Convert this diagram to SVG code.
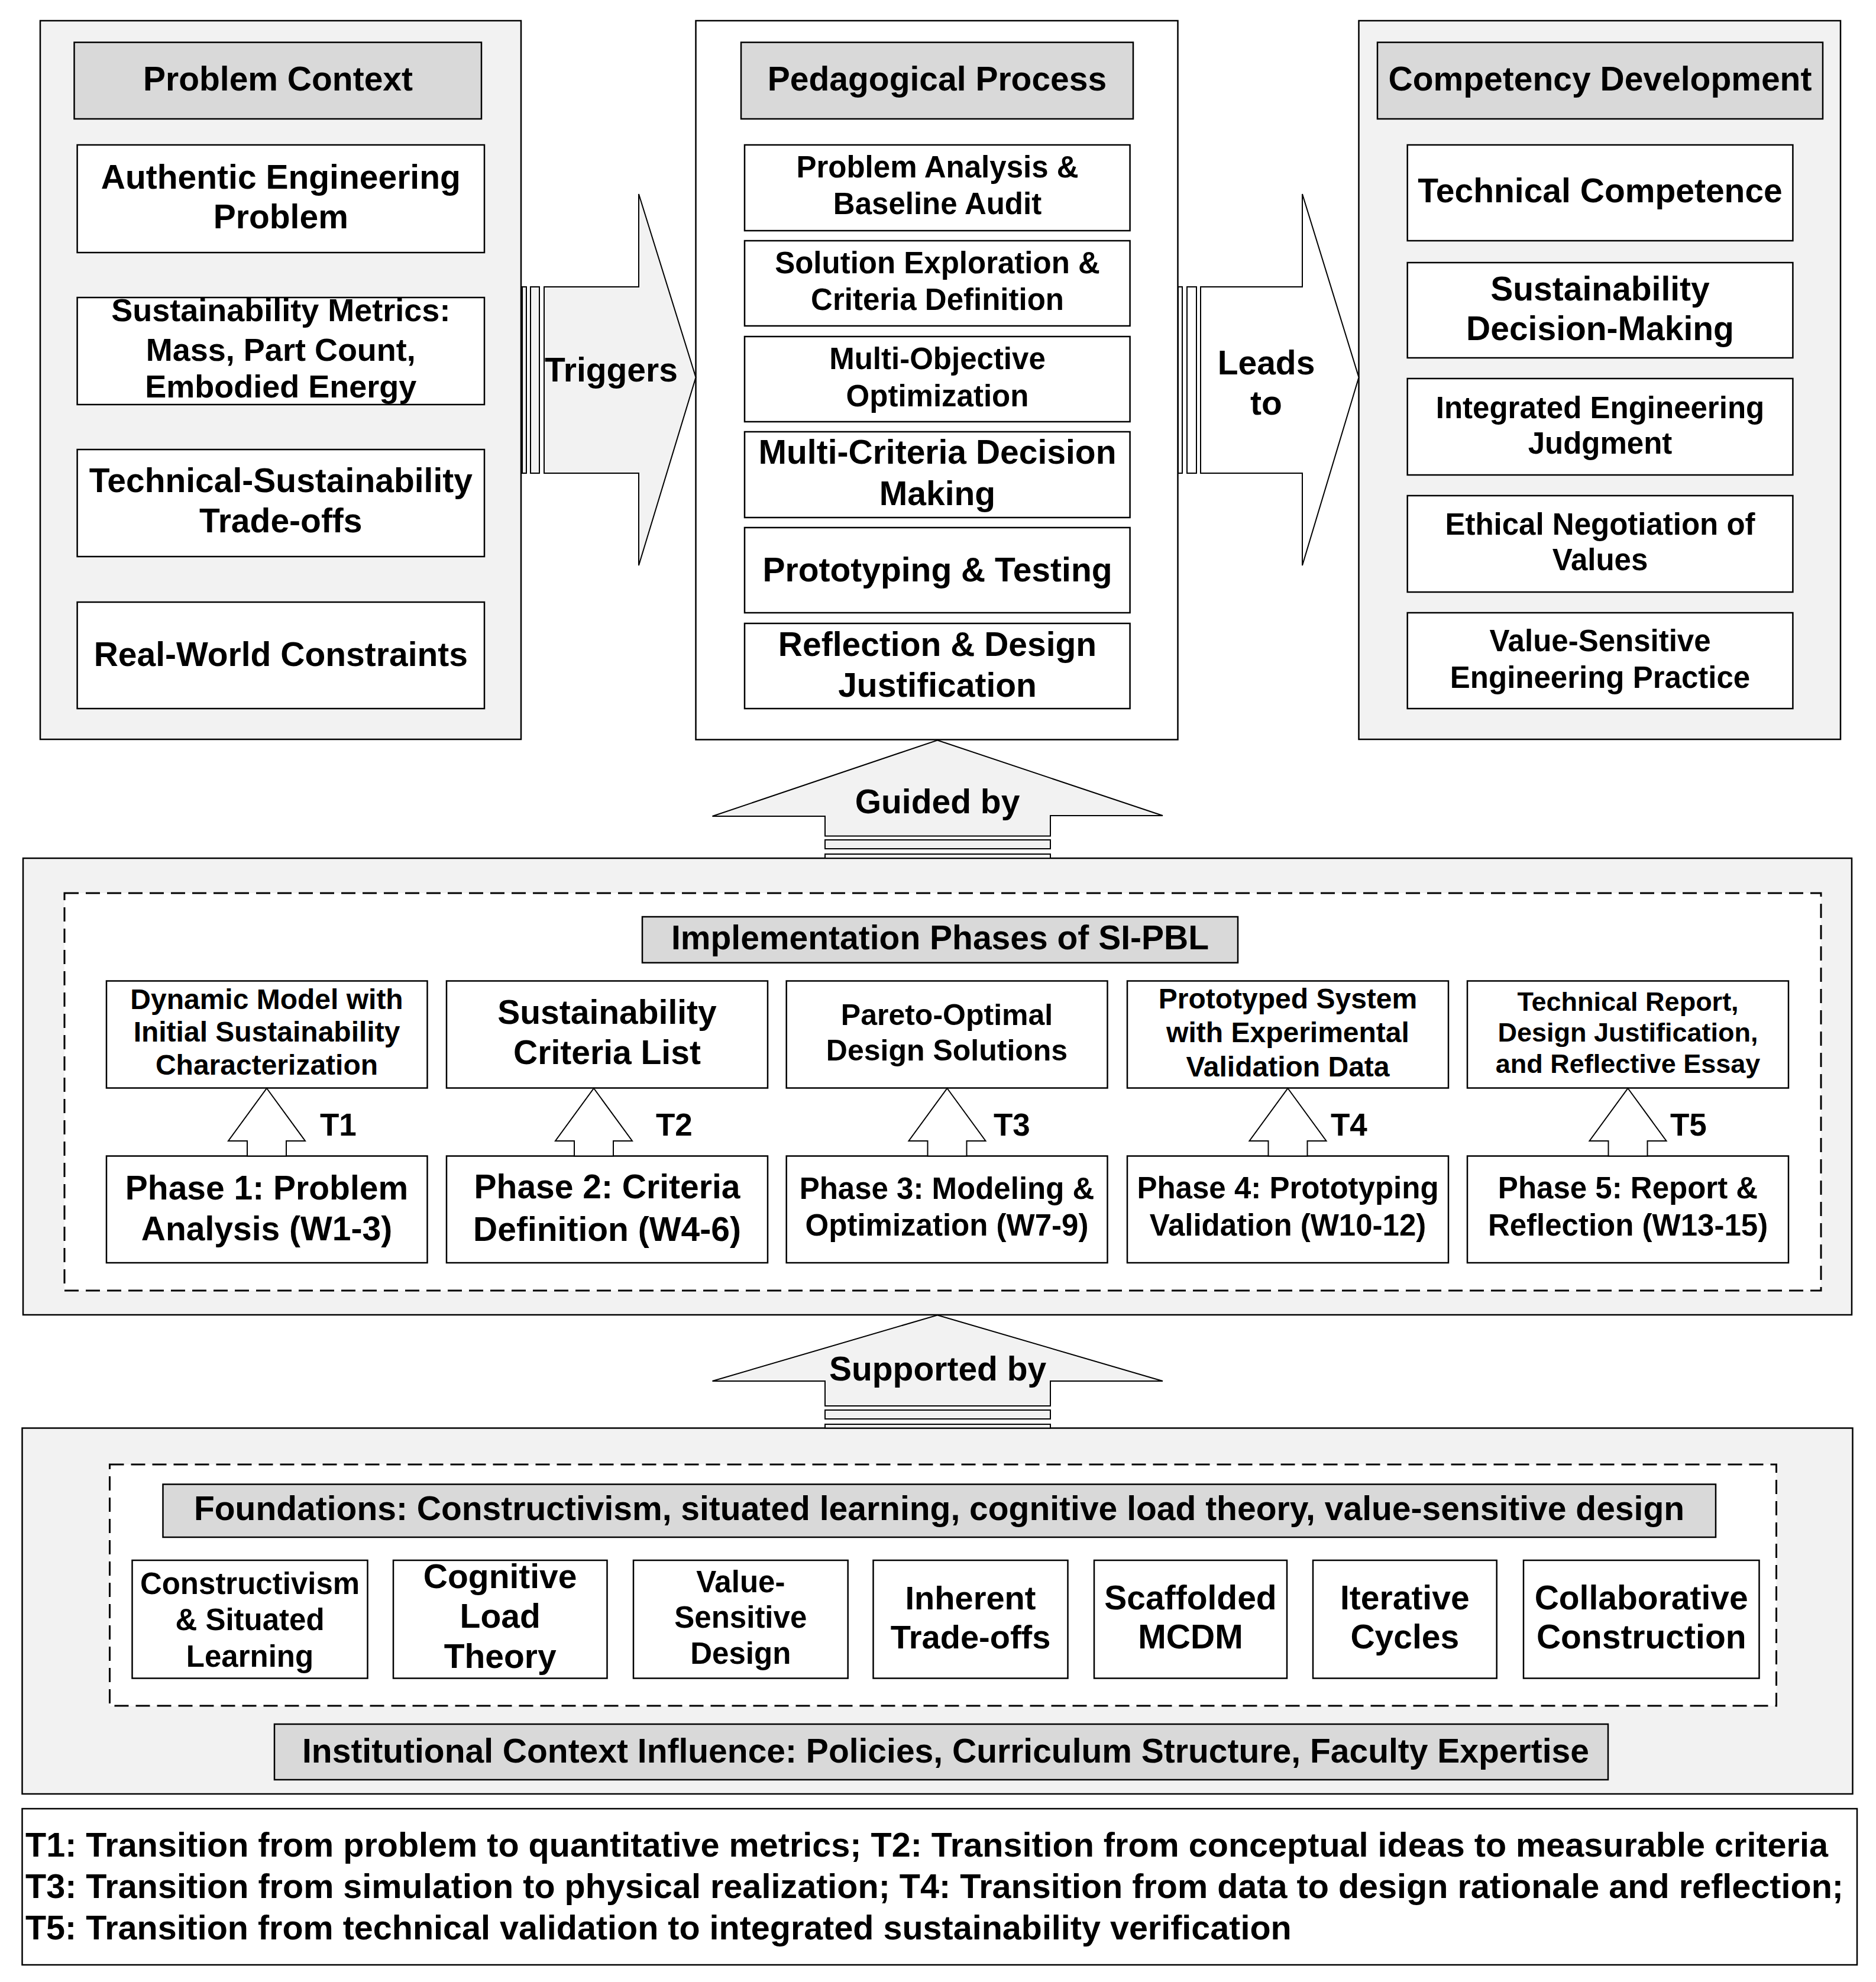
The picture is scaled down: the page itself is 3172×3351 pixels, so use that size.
<svg xmlns="http://www.w3.org/2000/svg" width="3172" height="3351" viewBox="0 0 3172 3351">
<style>
.panel{fill:#f2f2f2;stroke:#000;stroke-width:2.5}
.box{fill:#fff;stroke:#000;stroke-width:2.5}
.hdr{fill:#d9d9d9;stroke:#000;stroke-width:2.5}
.dash{fill:#fff;stroke:#000;stroke-width:3;stroke-dasharray:24 12}
.arr{fill:#f2f2f2;stroke:#000;stroke-width:2}
.arrw{fill:#fff;stroke:#000;stroke-width:2}
text{font-family:"Liberation Sans",Arial,Helvetica,sans-serif;font-weight:bold;fill:#000;text-anchor:middle}
.l{text-anchor:start}
.f575{font-size:57.5px}.f57{font-size:57px}.f56{font-size:56px}.f54{font-size:54px}.f53{font-size:53px}.f51{font-size:51px}.f50{font-size:50px}.f48{font-size:48px}.f45{font-size:45px}
</style>
<rect width="3172" height="3351" fill="#fff"/>

<g id="problem-context">
<rect class="panel" x="68" y="35" width="813" height="1215"/>
<rect class="hdr" x="125.5" y="71.6" width="688.5" height="129.4"/>
<text class="f57" x="470" y="153.4">Problem Context</text>
<rect class="box" x="130.6" y="245" width="688.4" height="182"/>
<text class="f57" x="474.8" y="319">Authentic Engineering</text>
<text class="f57" x="474.8" y="386">Problem</text>
<rect class="box" x="130.6" y="503" width="688.4" height="181"/>
<text class="f54" x="474.8" y="543">Sustainability Metrics:</text>
<text class="f54" x="474.8" y="609.5">Mass, Part Count,</text>
<text class="f54" x="474.8" y="672">Embodied Energy</text>
<rect class="box" x="130.6" y="760" width="688.4" height="181"/>
<text class="f57" x="474.8" y="831.7">Technical-Sustainability</text>
<text class="f57" x="474.8" y="899.7">Trade-offs</text>
<rect class="box" x="130.6" y="1018" width="688.4" height="180"/>
<text class="f57" x="474.8" y="1126">Real-World Constraints</text>
</g>

<g id="pedagogical-process">
<rect class="box" x="1176.5" y="35" width="815" height="1215.5"/>
<rect class="hdr" x="1253" y="71.6" width="663" height="129.4"/>
<text class="f57" x="1584.5" y="153.4">Pedagogical Process</text>
<rect class="box" x="1259" y="245" width="651.6" height="145"/>
<text class="f51" x="1585" y="300">Problem Analysis &amp;</text>
<text class="f51" x="1585" y="362">Baseline Audit</text>
<rect class="box" x="1259" y="407" width="651.6" height="144"/>
<text class="f51" x="1585" y="462">Solution Exploration &amp;</text>
<text class="f51" x="1585" y="524">Criteria Definition</text>
<rect class="box" x="1259" y="569" width="651.6" height="144"/>
<text class="f51" x="1585" y="623.5">Multi-Objective</text>
<text class="f51" x="1585" y="686.6">Optimization</text>
<rect class="box" x="1259" y="730" width="651.6" height="145"/>
<text class="f57" x="1585" y="783.6">Multi-Criteria Decision</text>
<text class="f57" x="1585" y="854">Making</text>
<rect class="box" x="1259" y="892" width="651.6" height="144"/>
<text class="f57" x="1585" y="982.6">Prototyping &amp; Testing</text>
<rect class="box" x="1259" y="1054" width="651.6" height="144"/>
<text class="f57" x="1585" y="1108.6">Reflection &amp; Design</text>
<text class="f57" x="1585" y="1177.5">Justification</text>
</g>

<g id="competency-development">
<rect class="panel" x="2297.5" y="35" width="814.5" height="1215"/>
<rect class="hdr" x="2329" y="71.6" width="753" height="129.4"/>
<text class="f57" x="2705.5" y="153.4">Competency Development</text>
<rect class="box" x="2379.7" y="245" width="651.7" height="162"/>
<text class="f57" x="2705.5" y="341.6">Technical Competence</text>
<rect class="box" x="2379.7" y="444" width="651.7" height="161"/>
<text class="f57" x="2705.5" y="507.5">Sustainability</text>
<text class="f57" x="2705.5" y="574.6">Decision-Making</text>
<rect class="box" x="2379.7" y="640" width="651.7" height="163"/>
<text class="f51" x="2705.5" y="706.5">Integrated Engineering</text>
<text class="f51" x="2705.5" y="767">Judgment</text>
<rect class="box" x="2379.7" y="838" width="651.7" height="163"/>
<text class="f51" x="2705.5" y="903.8">Ethical Negotiation of</text>
<text class="f51" x="2705.5" y="964.3">Values</text>
<rect class="box" x="2379.7" y="1036" width="651.7" height="162"/>
<text class="f51" x="2705.5" y="1101">Value-Sensitive</text>
<text class="f51" x="2705.5" y="1163.4">Engineering Practice</text>
</g>

<g id="implementation-phases">
<rect class="panel" x="39" y="1451" width="3092" height="772"/>
<rect class="dash" x="109" y="1510" width="2970" height="672"/>
<rect class="hdr" x="1086" y="1550" width="1007" height="77.7"/>
<text class="f57" x="1589.5" y="1604.7">Implementation Phases of SI-PBL</text>
<g id="out1">
<rect class="box" x="180" y="1658.5" width="542.5" height="181"/>
<text class="f48" x="451" y="1706">Dynamic Model with</text>
<text class="f48" x="451" y="1761">Initial Sustainability</text>
<text class="f48" x="451" y="1817">Characterization</text>
</g>
<g id="out2">
<rect class="box" x="755" y="1658.5" width="543" height="181"/>
<text class="f57" x="1026.5" y="1730.5">Sustainability</text>
<text class="f57" x="1026.5" y="1799.4">Criteria List</text>
</g>
<g id="out3">
<rect class="box" x="1329.7" y="1658.5" width="542.8" height="181"/>
<text class="f50" x="1601" y="1732.7">Pareto-Optimal</text>
<text class="f50" x="1601" y="1793">Design Solutions</text>
</g>
<g id="out4">
<rect class="box" x="1906" y="1658.5" width="543" height="181"/>
<text class="f48" x="2177.5" y="1705">Prototyped System</text>
<text class="f48" x="2177.5" y="1762">with Experimental</text>
<text class="f48" x="2177.5" y="1819.5">Validation Data</text>
</g>
<g id="out5">
<rect class="box" x="2481" y="1658.5" width="543" height="181"/>
<text class="f45" x="2752.5" y="1708.7">Technical Report,</text>
<text class="f45" x="2752.5" y="1761">Design Justification,</text>
<text class="f45" x="2752.5" y="1813.8">and Reflective Essay</text>
</g>
<g id="phase1">
<rect class="box" x="180" y="1954.5" width="542.5" height="180.5"/>
<text class="f57" x="451" y="2027.5">Phase 1: Problem</text>
<text class="f57" x="451" y="2097">Analysis (W1-3)</text>
</g>
<g id="phase2">
<rect class="box" x="755" y="1954.5" width="543" height="180.5"/>
<text class="f57" x="1026.5" y="2026">Phase 2: Criteria</text>
<text class="f57" x="1026.5" y="2098">Definition (W4-6)</text>
</g>
<g id="phase3">
<rect class="box" x="1329.7" y="1954.5" width="542.8" height="180.5"/>
<text class="f51" x="1601" y="2026.6">Phase 3: Modeling &amp;</text>
<text class="f51" x="1601" y="2088.6">Optimization (W7-9)</text>
</g>
<g id="phase4">
<rect class="box" x="1906" y="1954.5" width="543" height="180.5"/>
<text class="f51" x="2177.5" y="2026">Phase 4: Prototyping</text>
<text class="f51" x="2177.5" y="2089">Validation (W10-12)</text>
</g>
<g id="phase5">
<rect class="box" x="2481" y="1954.5" width="543" height="180.5"/>
<text class="f51" x="2752.5" y="2026">Phase 5: Report &amp;</text>
<text class="f51" x="2752.5" y="2089">Reflection (W13-15)</text>
</g>
</g>

<g id="foundations">
<rect class="panel" x="37.5" y="2414.5" width="3095" height="618.5"/>
<rect class="dash" x="185.5" y="2476" width="2818" height="408"/>
<rect class="hdr" x="275.5" y="2509.5" width="2625.5" height="89.5"/>
<text class="f57" x="1588" y="2570">Foundations: Constructivism, situated learning, cognitive load theory, value-sensitive design</text>
<g id="f1">
<rect class="box" x="223.5" y="2638" width="398" height="199.5"/>
<text class="f51" x="422.5" y="2695">Constructivism</text>
<text class="f51" x="422.5" y="2756">&amp; Situated</text>
<text class="f51" x="422.5" y="2817.6">Learning</text>
</g>
<g id="f2">
<rect class="box" x="665" y="2638" width="361.5" height="199.5"/>
<text class="f57" x="845.7" y="2684.6">Cognitive</text>
<text class="f57" x="845.7" y="2752">Load</text>
<text class="f57" x="845.7" y="2820.4">Theory</text>
</g>
<g id="f3">
<rect class="box" x="1071" y="2638" width="362.7" height="199.5"/>
<text class="f51" x="1252.3" y="2692">Value-</text>
<text class="f51" x="1252.3" y="2752">Sensitive</text>
<text class="f51" x="1252.3" y="2813">Design</text>
</g>
<g id="f4">
<rect class="box" x="1476.5" y="2638" width="329" height="199.5"/>
<text class="f56" x="1641" y="2721">Inherent</text>
<text class="f56" x="1641" y="2787">Trade-offs</text>
</g>
<g id="f5">
<rect class="box" x="1850" y="2638" width="326" height="199.5"/>
<text class="f57" x="2013" y="2721">Scaffolded</text>
<text class="f57" x="2013" y="2787">MCDM</text>
</g>
<g id="f6">
<rect class="box" x="2220" y="2638" width="310.7" height="199.5"/>
<text class="f57" x="2375.3" y="2721">Iterative</text>
<text class="f57" x="2375.3" y="2787">Cycles</text>
</g>
<g id="f7">
<rect class="box" x="2576" y="2638" width="398.5" height="199.5"/>
<text class="f57" x="2775.2" y="2721">Collaborative</text>
<text class="f57" x="2775.2" y="2787">Construction</text>
</g>
<rect class="hdr" x="464" y="2915" width="2255" height="94"/>
<text class="f57" x="1599" y="2980">Institutional Context Influence: Policies, Curriculum Structure, Faculty Expertise</text>
</g>

<g id="legend">
<rect class="box" x="37.5" y="3058" width="3102.5" height="264"/>
<text class="f575 l" x="43" y="3139" textLength="3048" lengthAdjust="spacingAndGlyphs">T1: Transition from problem to quantitative metrics; T2: Transition from conceptual ideas to measurable criteria</text>
<text class="f575 l" x="43" y="3209" textLength="3074" lengthAdjust="spacingAndGlyphs">T3: Transition from simulation to physical realization; T4: Transition from data to design rationale and reflection;</text>
<text class="f575 l" x="43" y="3279">T5: Transition from technical validation to integrated sustainability verification</text>
</g>

<g id="connectors">
<g id="triggers">
<rect class="arr" x="883" y="485" width="7" height="315"/>
<rect class="arr" x="897" y="485" width="15" height="315"/>
<path class="arr" d="M920,485 L1080,485 L1080,328 L1176.5,638 L1080,956 L1080,800 L920,800 Z"/>
<text class="f57" x="1033.5" y="645">Triggers</text>
</g>
<g id="leads-to">
<rect class="arrw" x="1992" y="485" width="7" height="315"/>
<rect class="arrw" x="2007" y="485" width="16" height="315"/>
<path class="arrw" d="M2030,485 L2202,485 L2202,328 L2297.5,638 L2202,956 L2202,800 L2030,800 Z"/>
<text class="f57" x="2141" y="632.7">Leads</text>
<text class="f57" x="2141" y="700.7">to</text>
</g>
<g id="guided-by">
<path class="arr" d="M1585,1251.5 L1966,1379 L1776,1379 L1776,1413.5 L1395,1413.5 L1395,1380 L1204.5,1380 Z"/>
<rect class="arr" x="1395" y="1420" width="381" height="15"/>
<rect class="arr" x="1395" y="1444" width="381" height="7"/>
<text class="f57" x="1585" y="1375">Guided by</text>
</g>
<g id="supported-by">
<path class="arr" d="M1585,2223.5 L1966,2335 L1776,2335 L1776,2377 L1395,2377 L1395,2335 L1204.5,2335 Z"/>
<rect class="arr" x="1395" y="2384" width="381" height="15"/>
<rect class="arr" x="1395" y="2408" width="381" height="6.5"/>
<text class="f57" x="1585.6" y="2333.7">Supported by</text>
</g>
<g id="transitions">
<path class="arrw" d="M451,1840 L516,1929 L484,1929 L484,1954.5 L418,1954.5 L418,1929 L386,1929 Z"/>
<path class="arrw" d="M1004,1840 L1069,1929 L1037,1929 L1037,1954.5 L971,1954.5 L971,1929 L939,1929 Z"/>
<path class="arrw" d="M1601.5,1840 L1666.5,1929 L1634.5,1929 L1634.5,1954.5 L1568.5,1954.5 L1568.5,1929 L1536.5,1929 Z"/>
<path class="arrw" d="M2177.5,1840 L2242.5,1929 L2210.5,1929 L2210.5,1954.5 L2144.5,1954.5 L2144.5,1929 L2112.5,1929 Z"/>
<path class="arrw" d="M2752.5,1840 L2817.5,1929 L2785.5,1929 L2785.5,1954.5 L2719.5,1954.5 L2719.5,1929 L2687.5,1929 Z"/>
<text class="f53 l" x="541" y="1920">T1</text>
<text class="f53 l" x="1109" y="1920">T2</text>
<text class="f53 l" x="1680" y="1920">T3</text>
<text class="f53 l" x="2250" y="1920">T4</text>
<text class="f53 l" x="2824" y="1920">T5</text>
</g>
</g>
</svg>
